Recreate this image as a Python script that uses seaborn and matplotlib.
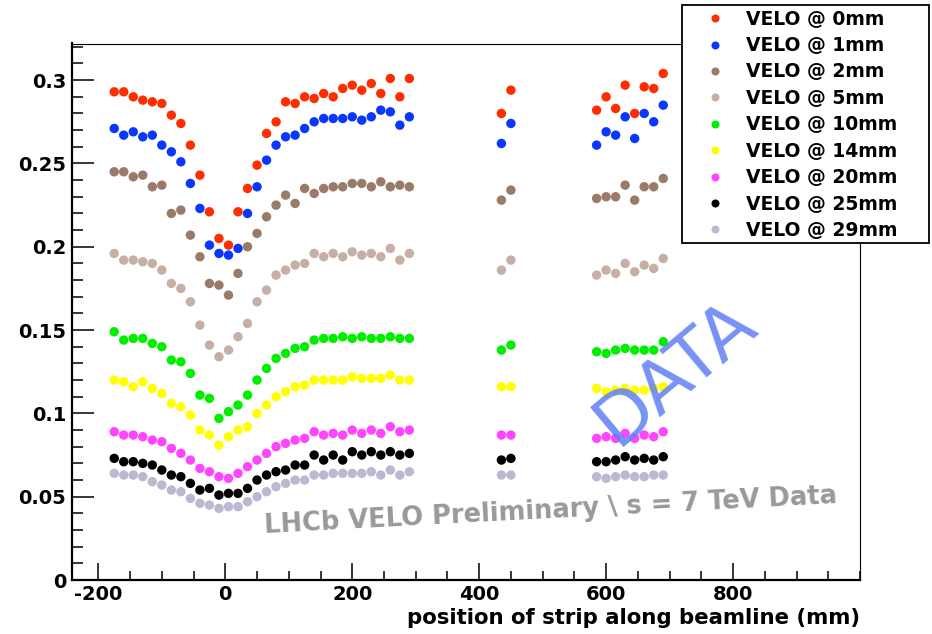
import numpy as np
import pandas as pd
import matplotlib
matplotlib.use("Agg")
import matplotlib.pyplot as plt
from matplotlib.lines import Line2D
from matplotlib.patches import Rectangle
from matplotlib.ticker import MultipleLocator
import seaborn as sns

# strip positions along the beamline (mm)
positions = [-175, -160, -145, -130, -115, -100, -85, -70, -55, -40, -25, -10,
             5, 20, 35, 50, 65, 80, 95, 110, 125, 140, 155, 170, 185, 200,
             215, 230, 245, 260, 275, 290,
             435, 450,
             585, 600, 615, 630, 645, 660, 675, 690]

velo_0mm = [0.293, 0.293, 0.290, 0.288, 0.287, 0.286, 0.279, 0.274, 0.261, 0.243, 0.221, 0.205,
            0.201, 0.221, 0.235, 0.249, 0.268, 0.275, 0.287, 0.286, 0.290, 0.289, 0.292, 0.290,
            0.295, 0.297, 0.294, 0.298, 0.292, 0.301, 0.290, 0.301,
            0.280, 0.294,
            0.282, 0.290, 0.283, 0.297, 0.280, 0.296, 0.295, 0.304]
velo_1mm = [0.271, 0.267, 0.269, 0.266, 0.267, 0.261, 0.257, 0.251, 0.238, 0.223, 0.201, 0.196,
            0.195, 0.199, 0.220, 0.236, 0.252, 0.261, 0.266, 0.267, 0.271, 0.275, 0.277, 0.277,
            0.277, 0.278, 0.276, 0.278, 0.282, 0.281, 0.273, 0.278,
            0.262, 0.274,
            0.261, 0.269, 0.267, 0.278, 0.265, 0.280, 0.275, 0.285]
velo_2mm = [0.245, 0.245, 0.242, 0.243, 0.236, 0.237, 0.220, 0.222, 0.207, 0.194, 0.178, 0.177,
            0.171, 0.184, 0.200, 0.208, 0.218, 0.225, 0.231, 0.226, 0.235, 0.232, 0.235, 0.236,
            0.236, 0.238, 0.238, 0.236, 0.239, 0.236, 0.237, 0.236,
            0.228, 0.234,
            0.229, 0.230, 0.230, 0.237, 0.228, 0.236, 0.236, 0.241]
velo_5mm = [0.196, 0.192, 0.192, 0.191, 0.190, 0.186, 0.178, 0.175, 0.167, 0.153, 0.141, 0.134,
            0.138, 0.146, 0.154, 0.167, 0.174, 0.183, 0.186, 0.189, 0.190, 0.196, 0.194, 0.196,
            0.194, 0.197, 0.195, 0.196, 0.194, 0.199, 0.192, 0.196,
            0.186, 0.192,
            0.183, 0.186, 0.184, 0.190, 0.185, 0.189, 0.187, 0.193]
velo_10mm = [0.149, 0.144, 0.145, 0.145, 0.142, 0.140, 0.132, 0.131, 0.124, 0.111, 0.109, 0.097,
             0.101, 0.105, 0.111, 0.120, 0.127, 0.133, 0.136, 0.139, 0.140, 0.144, 0.145, 0.145,
             0.146, 0.145, 0.146, 0.145, 0.145, 0.146, 0.145, 0.145,
             0.138, 0.141,
             0.137, 0.136, 0.138, 0.139, 0.138, 0.138, 0.138, 0.143]
velo_14mm = [0.120, 0.119, 0.116, 0.119, 0.115, 0.112, 0.106, 0.104, 0.099, 0.090, 0.087, 0.081,
             0.086, 0.090, 0.092, 0.100, 0.105, 0.110, 0.113, 0.116, 0.117, 0.120, 0.120, 0.120,
             0.120, 0.122, 0.121, 0.121, 0.121, 0.123, 0.120, 0.120,
             0.116, 0.116,
             0.115, 0.113, 0.114, 0.115, 0.114, 0.114, 0.115, 0.116]
velo_20mm = [0.089, 0.087, 0.087, 0.086, 0.084, 0.083, 0.079, 0.076, 0.072, 0.067, 0.065, 0.062,
             0.061, 0.064, 0.068, 0.072, 0.076, 0.080, 0.082, 0.084, 0.085, 0.089, 0.087, 0.088,
             0.087, 0.090, 0.088, 0.090, 0.088, 0.092, 0.089, 0.090,
             0.087, 0.087,
             0.085, 0.086, 0.085, 0.088, 0.085, 0.087, 0.086, 0.089]
velo_25mm = [0.073, 0.071, 0.071, 0.070, 0.069, 0.066, 0.063, 0.062, 0.058, 0.054, 0.055, 0.051,
             0.052, 0.052, 0.055, 0.060, 0.063, 0.065, 0.066, 0.069, 0.069, 0.075, 0.072, 0.075,
             0.072, 0.077, 0.075, 0.077, 0.075, 0.077, 0.075, 0.076,
             0.072, 0.073,
             0.071, 0.071, 0.072, 0.074, 0.072, 0.073, 0.072, 0.074]
velo_29mm = [0.064, 0.063, 0.063, 0.062, 0.059, 0.057, 0.054, 0.053, 0.049, 0.046, 0.045, 0.043,
             0.044, 0.044, 0.047, 0.050, 0.053, 0.056, 0.058, 0.060, 0.060, 0.063, 0.063, 0.064,
             0.064, 0.064, 0.064, 0.065, 0.063, 0.066, 0.063, 0.065,
             0.063, 0.063,
             0.062, 0.061, 0.062, 0.063, 0.062, 0.062, 0.063, 0.063]

series_labels = ["VELO @ 0mm", "VELO @ 1mm", "VELO @ 2mm", "VELO @ 5mm", "VELO @ 10mm",
                 "VELO @ 14mm", "VELO @ 20mm", "VELO @ 25mm", "VELO @ 29mm"]
series_values = [velo_0mm, velo_1mm, velo_2mm, velo_5mm, velo_10mm,
                 velo_14mm, velo_20mm, velo_25mm, velo_29mm]
series_colors = ["#ff2d00", "#0a37ff", "#9a7a68", "#c6b0a6", "#00ee00",
                 "#ffff00", "#ff45ff", "#000000", "#bab9d2"]

xtick_values = [-200, 0, 200, 400, 600, 800]
ytick_values = [0, 0.05, 0.1, 0.15, 0.2, 0.25, 0.3]
ytick_labels = ["0", "0.05", "0.1", "0.15", "0.2", "0.25", "0.3"]

df = pd.concat(
    [pd.DataFrame({"position": positions, "value": vals, "series": lab})
     for lab, vals in zip(series_labels, series_values)],
    ignore_index=True,
)

sns.set_style("white")
plt.rcParams["font.family"] = ["DejaVu Sans"]
plt.rcParams["font.weight"] = "bold"
plt.rcParams["text.color"] = "black"
plt.rcParams["axes.labelcolor"] = "black"
plt.rcParams["xtick.color"] = "black"
plt.rcParams["ytick.color"] = "black"

fig = plt.figure(figsize=(9.32, 6.34), dpi=100)
ax = fig.add_axes([71.7 / 932, 1 - 580 / 634, (860 - 71.7) / 932, (580 - 43.5) / 634])

palette = dict(zip(series_labels, series_colors))
sns.scatterplot(data=df, x="position", y="value", hue="series", hue_order=series_labels,
                palette=palette, s=46, linewidth=0, edgecolor="none", legend=False,
                ax=ax, zorder=3)

ax.set_xlim(-242, 1000)
ax.set_ylim(0, 0.322)
ax.set_xticks(xtick_values)
ax.set_xticklabels([str(v) for v in xtick_values])
ax.set_yticks(ytick_values)
ax.set_yticklabels(ytick_labels)
ax.xaxis.set_minor_locator(MultipleLocator(50))
ax.yaxis.set_minor_locator(MultipleLocator(0.01))

for side in ["left", "bottom"]:
    ax.spines[side].set_linewidth(1.6)
    ax.spines[side].set_color("black")
for side in ["top", "right"]:
    ax.spines[side].set_linewidth(0.8)
    ax.spines[side].set_color("black")
    ax.spines[side].set_visible(True)

ax.tick_params(axis="x", which="major", direction="in", length=12.2, width=1.1,
               labelsize=14, pad=3.5, bottom=True, top=False, colors="black")
ax.tick_params(axis="x", which="minor", direction="in", length=6.5, width=1.1,
               bottom=True, top=False, colors="black")
ax.tick_params(axis="y", which="major", direction="in", length=15.8, width=1.1,
               labelsize=14, pad=4, left=True, right=False, colors="black")
ax.tick_params(axis="y", which="minor", direction="in", length=8, width=1.1,
               left=True, right=False, colors="black")
for lab in ax.get_xticklabels() + ax.get_yticklabels():
    lab.set_fontweight("bold")

ax.set_xlabel("position of strip along beamline (mm)", fontsize=15.3, fontweight="bold",
              color="black", loc="right", labelpad=3)
ax.set_ylabel("")

# preliminary stamp and watermark
ax.text(265 / 932, 1 - 533 / 634, "LHCb VELO Preliminary \\ s = 7 TeV Data",
        transform=fig.transFigure, fontsize=18.5, fontweight="bold", color="#999999",
        rotation=3, rotation_mode="anchor", ha="left", va="baseline", zorder=4)
ax.text(675 / 932, 1 - 372 / 634, "DATA", transform=fig.transFigure,
        fontsize=52, fontweight="normal", color="#5f7ff2", alpha=0.85,
        rotation=40, rotation_mode="anchor", ha="center", va="center", zorder=5)

# legend box
fig.patches.append(Rectangle((682 / 932, 1 - 243 / 634), (929 - 682) / 932, (243 - 5) / 634,
                             transform=fig.transFigure, facecolor="white",
                             edgecolor="black", linewidth=1.3, zorder=10))
handles = [Line2D([], [], linestyle="none", marker="o", markersize=5.8,
                  markerfacecolor=c, markeredgecolor="none") for c in series_colors]
leg = fig.legend(handles, series_labels, loc="upper left",
                 bbox_to_anchor=(682 / 932, 1 - 5 / 634), bbox_transform=fig.transFigure,
                 frameon=False, borderaxespad=0, borderpad=0.25,
                 handlelength=3.0, handletextpad=0.15, labelspacing=0.395,
                 prop={"weight": "bold", "size": 13.5})
for t in leg.get_texts():
    t.set_color("black")
leg.set_zorder(11)

fig.savefig("out.png", dpi=100, facecolor="white")
